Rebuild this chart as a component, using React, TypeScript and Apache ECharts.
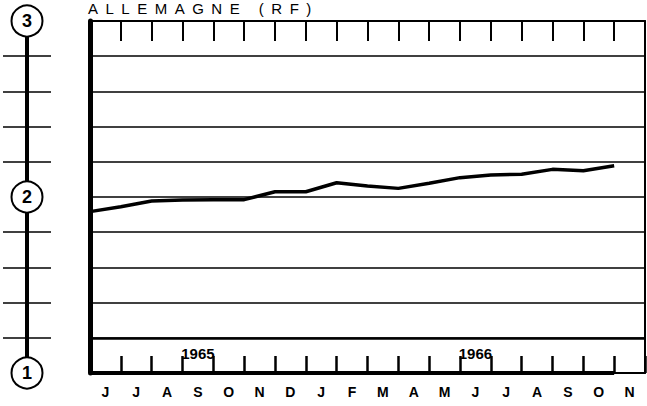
import React, { useEffect, useRef } from 'react';
import * as echarts from 'echarts';

// Month categories (June 1965 -> November 1966)
const months = ['J', 'J', 'A', 'S', 'O', 'N', 'D', 'J', 'F', 'M', 'A', 'M', 'J', 'J', 'A', 'S', 'O', 'N'];
// Index readings, one per month boundary (0..17)
const levels = [1.917, 1.945, 1.977, 1.983, 1.985, 1.985, 2.03, 2.03, 2.081, 2.063, 2.049, 2.078, 2.11, 2.125, 2.129, 2.157, 2.149, 2.178];
// Circled scale marks on the left ruler
const scaleMarks = [1, 2, 3];
// Year annotations in the bottom band, with the month index they sit over
const yearLabels = ['1965', '1966'];
const yearIndex = [3, 12];
const title = 'ALLEMAGNE (RF)';

export default function App() {
  const ref = useRef<HTMLDivElement>(null);

  useEffect(() => {
    if (!ref.current) return;
    const chart = echarts.init(ref.current, null, { renderer: 'svg' });
    const black = '#000';
    const option: any = {
      animation: false,
      backgroundColor: '#fff',
      grid: [
        { left: 90, right: 2, top: 21, bottom: 33, containLabel: false },
        { left: 3, width: 48, top: 21, bottom: 33, containLabel: false },
      ],
      xAxis: [
        {
          type: 'category', gridIndex: 0, data: months, position: 'bottom', boundaryGap: true,
          axisLine: { show: true, onZero: false, lineStyle: { color: black, width: 2 } },
          axisTick: { show: true, inside: true, length: 17, interval: 0, lineStyle: { color: black, width: 2.5 } },
          axisLabel: { interval: 0, color: black, fontFamily: 'Liberation Sans', fontWeight: 'bold', fontSize: 14, margin: 12 },
          splitLine: { show: false },
        },
        {
          type: 'category', gridIndex: 0, data: months, position: 'top', boundaryGap: true,
          axisLine: { show: true, onZero: false, lineStyle: { color: black, width: 2 } },
          axisTick: { show: true, inside: true, length: 20, interval: 0, lineStyle: { color: black, width: 2 } },
          axisLabel: { show: false },
          splitLine: { show: false },
        },
        { type: 'value', gridIndex: 0, min: 0, max: months.length, show: false },
        { type: 'value', gridIndex: 1, min: -1, max: 1, show: false },
      ],
      yAxis: [
        {
          type: 'value', gridIndex: 0, min: 1, max: 3, interval: 0.2, position: 'left',
          axisLine: { show: true, onZero: false, lineStyle: { color: black, width: 5 } },
          axisTick: { show: false }, axisLabel: { show: false },
          splitLine: { show: true, lineStyle: { color: black, width: 1.5 } },
        },
        {
          type: 'value', gridIndex: 0, min: 1, max: 3, interval: 0.2, position: 'right',
          axisLine: { show: true, onZero: false, lineStyle: { color: black, width: 2 } },
          axisTick: { show: false }, axisLabel: { show: false }, splitLine: { show: false },
        },
        {
          type: 'value', gridIndex: 1, min: 1, max: 3, interval: 0.2,
          axisLine: { show: true, onZero: true, lineStyle: { color: black, width: 4 } },
          axisTick: { show: false }, axisLabel: { show: false },
          splitLine: { show: true, lineStyle: { color: ['transparent', black, black, black, black], width: 1.5 } },
        },
      ],
      series: [
        {
          type: 'line', xAxisIndex: 2, yAxisIndex: 0,
          data: levels.map((v, i) => [i, v]),
          showSymbol: false, clip: false,
          lineStyle: { color: black, width: 3.5 },
          z: 4,
          markLine: {
            silent: true, symbol: 'none', label: { show: false },
            lineStyle: { color: black, width: 4, type: 'solid' },
            data: [
              [{ coord: [0, 1] }, { coord: [levels.length - 1, 1] }],
              [{ coord: [0, 1.2], lineStyle: { width: 2.5 } }, { coord: [months.length, 1.2] }],
            ],
          },
        },
        {
          type: 'scatter', xAxisIndex: 3, yAxisIndex: 2,
          data: scaleMarks.map((v) => [0, v]),
          symbol: 'circle', symbolSize: 31, clip: false, z: 5,
          itemStyle: { color: '#fff', borderColor: black, borderWidth: 2, opacity: 1 },
          label: {
            show: true, position: 'inside', color: black, fontFamily: 'Liberation Sans',
            fontWeight: 'bold', fontSize: 18,
            formatter: (p: any) => String(p.value[1]),
          },
        },
      ],
      graphic: [
        {
          id: 'title', type: 'text', left: 88, top: 1,
          style: { text: title.split('').join('\u2002'), font: '15px "Liberation Sans"', fill: black },
        },
      ],
    };
    chart.setOption(option);

    const bandY = chart.convertToPixel({ yAxisIndex: 0 }, 1.1) as number;
    const years = yearLabels.map((t, k) => {
      const x = chart.convertToPixel({ xAxisIndex: 0 }, yearIndex[k]) as number;
      return {
        id: 'year' + k, type: 'text', x, y: bandY - 2,
        style: {
          text: t, font: 'bold 15px "Liberation Sans"', fill: black,
          align: 'center', verticalAlign: 'middle',
        },
        z: 10,
      };
    });
    chart.setOption({ graphic: years });

    return () => chart.dispose();
  }, []);

  return (
    <div
      ref={ref}
      style={{ position: 'fixed', left: 0, top: 0, width: 647, height: 406, background: '#fff' }}
    />
  );
}
